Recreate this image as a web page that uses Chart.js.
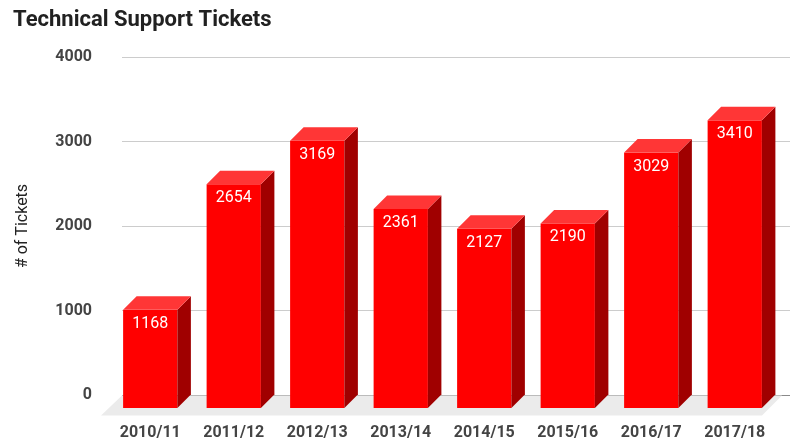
<!DOCTYPE html>
<html>
<head>
<meta charset="utf-8">
<script src="https://cdn.jsdelivr.net/npm/chart.js@4"></script>
<style>
  html, body { margin: 0; padding: 0; background: #fff; }
  #wrap { width: 790px; height: 441px; }
</style>
</head>
<body>
<div id="wrap"><canvas id="chart" width="790" height="441"></canvas></div>
<script>
const years = ["2010/11", "2011/12", "2012/13", "2013/14", "2014/15", "2015/16", "2016/17", "2017/18"];
const tickets = [1168, 2654, 3169, 2361, 2127, 2190, 3029, 3410];
const yTicks = [0, 1000, 2000, 3000, 4000];

const depth = 13.5;

// grey floor under the bars
const floorPlugin = {
  id: "floor",
  beforeDatasetsDraw(chart) {
    const { ctx, chartArea, scales } = chart;
    const base = scales.y.getPixelForValue(0) + 0.5;
    ctx.save();
    ctx.fillStyle = "#ebebeb";
    ctx.beginPath();
    ctx.moveTo(chartArea.left, base);
    ctx.lineTo(chartArea.right - 8, base);
    ctx.lineTo(chartArea.right - 8 - 20, base + 20);
    ctx.lineTo(chartArea.left - 21, base + 20);
    ctx.closePath();
    ctx.fill();
    ctx.restore();
  },
};

// draws each bar as a box with front, top and side faces
const boxPlugin = {
  id: "box",
  afterDatasetsDraw(chart) {
    const { ctx } = chart;
    const meta = chart.getDatasetMeta(0);
    ctx.save();
    meta.data.forEach((bar, i) => {
      const { x, y, base, width } = bar.getProps(["x", "y", "base", "width"], true);
      const l = x - width / 2;
      const r = x + width / 2;
      const d = depth;

      ctx.fillStyle = "#ff0000";
      ctx.fillRect(l - d, y + d, width, base - y);

      ctx.fillStyle = "#a00000";
      ctx.beginPath();
      ctx.moveTo(r - d, y + d);
      ctx.lineTo(r, y);
      ctx.lineTo(r, base);
      ctx.lineTo(r - d, base + d);
      ctx.closePath();
      ctx.fill();

      ctx.fillStyle = "#ff3636";
      ctx.beginPath();
      ctx.moveTo(l - d, y + d);
      ctx.lineTo(l, y);
      ctx.lineTo(r, y);
      ctx.lineTo(r - d, y + d);
      ctx.closePath();
      ctx.fill();

      ctx.fillStyle = "#ffffff";
      ctx.font = "16px Roboto";
      ctx.textAlign = "center";
      ctx.textBaseline = "middle";
      ctx.fillText(String(tickets[i]), x - d, y + d + 14);
    });
    ctx.restore();
  },
};

new Chart(document.getElementById("chart"), {
  type: "bar",
  data: {
    labels: years,
    datasets: [
      {
        label: "# of Tickets",
        data: tickets,
        backgroundColor: "rgba(0,0,0,0)",
        borderWidth: 0,
        barPercentage: 0.65,
        categoryPercentage: 1,
      },
    ],
  },
  options: {
    responsive: false,
    animation: false,
    layout: { padding: { left: 13, right: -4, top: 0, bottom: 0 } },
    plugins: {
      legend: { display: false },
      tooltip: { enabled: false },
      title: {
        display: true,
        text: "Technical Support Tickets",
        align: "start",
        color: "#212121",
        font: { family: "Roboto", size: 22, weight: "bold" },
        padding: { top: 7, bottom: 23.6 },
      },
    },
    scales: {
      x: {
        grid: { display: false, drawTicks: false },
        border: { display: false },
        ticks: {
          color: "#444",
          font: { family: "Roboto", size: 16, weight: "bold" },
          padding: 28,
          labelOffset: -13.5,
          maxRotation: 0,
          autoSkip: false,
        },
        afterFit(scale) {
          scale.height = 46;
          scale.paddingLeft = 0;
          scale.paddingRight = 0;
        },
      },
      y: {
        min: yTicks[0],
        max: yTicks[yTicks.length - 1],
        border: { display: false },
        grid: {
          drawTicks: false,
          color: (c) => (c.tick && c.tick.value === 0 ? "#8a8a8a" : "#cccccc"),
        },
        afterBuildTicks(scale) {
          scale.ticks = yTicks.map((v) => ({ value: v }));
        },
        ticks: {
          color: "#444",
          font: { family: "Roboto", size: 16, weight: "bold" },
          padding: 30,
          callback: (v) => String(v),
        },
        title: {
          display: true,
          text: "# of Tickets",
          color: "#222",
          font: { family: "Roboto", size: 16 },
          padding: { top: 0, bottom: 0 },
        },
        afterFit(scale) {
          scale.width = 109;
        },
      },
    },
  },
  plugins: [floorPlugin, boxPlugin],
});
</script>
</body>
</html>
